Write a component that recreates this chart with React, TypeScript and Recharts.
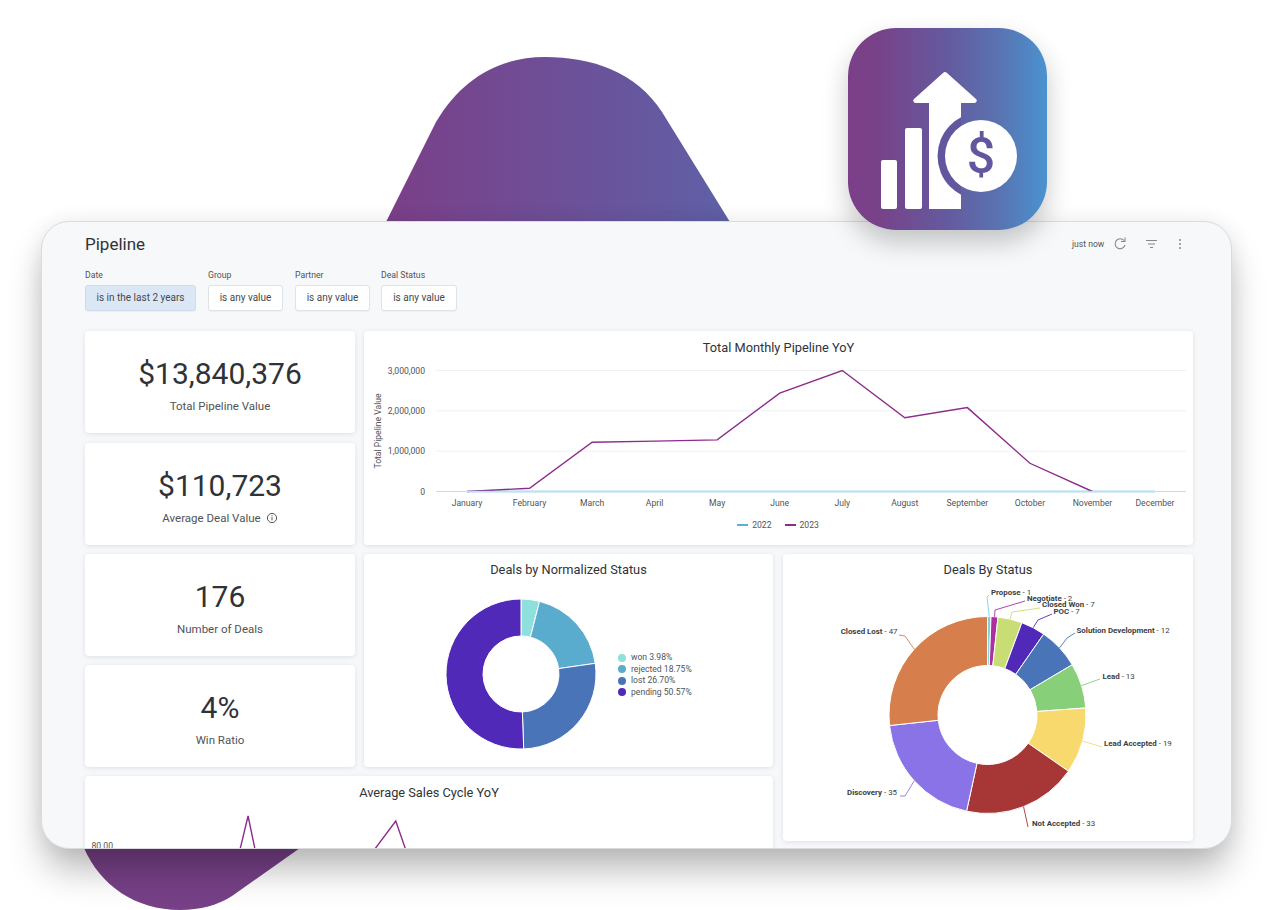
import React from 'react';
import { LineChart, Line, XAxis, YAxis, CartesianGrid, Legend, PieChart, Pie, Cell } from 'recharts';

const MONTHS = ['January','February','March','April','May','June','July','August','September','October','November','December'];
const PIPE_2022 = [0,0,0,0,0,0,0,0,0,0,0,0];
const PIPE_2023 = [0,80000,1220000,1250000,1280000,2440000,3000000,1830000,2080000,700000,0,null];
const PIPE_TICKS = [0,1000000,2000000,3000000];

const NORM_NAMES = ['won','rejected','lost','pending'];
const NORM_VALUES = [3.98,18.75,26.70,50.57];
const NORM_COLORS = ['#8de0dc','#5aaccf','#4a74b8','#5029b8'];

const STATUS_NAMES = ['Propose','Negotiate','Closed Won','POC','Solution Development','Lead','Lead Accepted','Not Accepted','Discovery','Closed Lost'];
const STATUS_VALUES = [1,2,7,7,12,13,19,33,35,47];
const STATUS_COLORS = ['#7fd0e0','#a9309e','#c9dd75','#5029b8','#4a74b8','#87cf78','#f8d96e','#a73636','#8a73e6','#d67f4d'];

const CYCLE_VALUES = [38,52,47,60,44,95,36,48,55,62,76,92.5,57,44,63,50,39,67,46,54,35,49,42,30,26,33,28];
const CYCLE_TICKS = [80];

const FONT = 'Roboto, sans-serif';
const INK = '#2f3338';
const MUTED = '#4f5459';

const pipeRows = MONTHS.map((m,i)=>({month:m,y2022:PIPE_2022[i],y2023:PIPE_2023[i]}));
const normRows = NORM_NAMES.map((n,i)=>({name:n,value:NORM_VALUES[i]}));
const statusRows = STATUS_NAMES.map((n,i)=>({name:n,value:STATUS_VALUES[i]}));
const cycleRows = CYCLE_VALUES.map((v,i)=>({idx:String(i),value:v}));

// label placement around the status donut, relative to its centre
const LABEL_PLACE = [
  {x:3.5,y:-123.5,a:'start',via:[[-0.5,-118],[1.5,-120]]},
  {x:39.5,y:-117.5,a:'start',via:[[7.5,-105],[37.5,-114]]},
  {x:54.5,y:-111,a:'start',via:[[24.5,-103],[52.5,-107]]},
  {x:66,y:-104.5,a:'start',via:[[50.5,-95],[64.5,-101]]},
  {x:89,y:-85,a:'start',via:[[79.5,-77],[87.5,-82]]},
  {x:115,y:-39.5,a:'start',via:[[112.5,-36]]},
  {x:116.5,y:28,a:'start',via:[[114.5,32]]},
  {x:44.5,y:108,a:'start',via:[[40.5,112]]},
  {x:-90.5,y:76.5,a:'end',via:[[-82.5,81],[-87.5,81]]},
  {x:-90,y:-84,a:'end',via:[[-82.5,-79],[-88.5,-80]]},
];

const polar = (cx:number,cy:number,r:number,deg:number)=>[cx+r*Math.cos(-deg*Math.PI/180),cy+r*Math.sin(-deg*Math.PI/180)];

const StatusLabel = (p:any)=>{
  const place = LABEL_PLACE[p.index];
  return (
    <text x={p.cx+place.x} y={p.cy+place.y} textAnchor={place.a} dominantBaseline="central" fontSize={7.9} fontFamily={FONT} fill="#3a3e43">
      <tspan fontWeight={700}>{STATUS_NAMES[p.index]}</tspan>
      <tspan> - {STATUS_VALUES[p.index]}</tspan>
    </text>
  );
};
const StatusLine = (p:any)=>{
  const place = LABEL_PLACE[p.index];
  const c = STATUS_COLORS[p.index];
  const cx = p.cx; const cy = p.cy;
  const mid = p.midAngle;
  const start = polar(cx,cy,p.outerRadius,mid);
  const pts = [start,...place.via.map(([x,y]:number[])=>[cx+x,cy+y])];
  return <polyline points={pts.map(q=>q.join(',')).join(' ')} fill="none" stroke={c} strokeWidth={0.9} strokeLinejoin="round"/>;
};

const Card = ({x,y,w,h,children}:any)=>(
  <div style={{position:'absolute',left:x,top:y,width:w,height:h,background:'#fff',borderRadius:4,boxShadow:'0 1px 5px rgba(60,70,80,0.13)',overflow:'hidden'}}>{children}</div>
);
const Title = ({w,y,children}:any)=>(
  <div style={{position:'absolute',left:0,width:w,top:y,textAlign:'center',fontSize:12.8,lineHeight:'16px',color:INK,whiteSpace:'nowrap'}}>{children}</div>
);
const Kpi = ({y,value,label,info}:any)=>(
  <Card x={85} y={y} w={270} h={102}>
    <div style={{position:'absolute',left:0,width:270,top:22.5,textAlign:'center',fontSize:30,lineHeight:'40px',color:INK}}>{value}</div>
    <div style={{position:'absolute',left:0,width:270,top:67,textAlign:'center',fontSize:11.5,lineHeight:'16px',color:MUTED}}>
      {label}
      {info && <svg width="12" height="12" viewBox="0 0 12 12" style={{marginLeft:5,verticalAlign:-2}}><circle cx="6" cy="6" r="4.6" fill="none" stroke={MUTED} strokeWidth="1"/><rect x="5.5" y="5.2" width="1" height="3.2" fill={MUTED}/><rect x="5.5" y="3.4" width="1" height="1" fill={MUTED}/></svg>}
    </div>
  </Card>
);
const Filter = ({x,w,label,value,active}:any)=>(
  <>
    <div style={{position:'absolute',left:x,top:269,fontSize:8.7,lineHeight:'12px',color:MUTED}}>{label}</div>
    <div style={{position:'absolute',left:x,top:285,width:w,height:26,boxSizing:'border-box',borderRadius:3,background:active?'#dce7f5':'#fff',border:active?'1px solid #d0dcec':'1px solid #dfe2e6',textAlign:'center',fontSize:10,lineHeight:'24px',color:'#44494e',boxShadow:'0 1px 1px rgba(0,0,0,0.04)'}}>{value}</div>
  </>
);

const PipeLegend = (p:any)=>(
  <div style={{display:'flex',justifyContent:'center',gap:13,fontSize:8.6,lineHeight:'12px',color:MUTED,paddingLeft:6,paddingTop:6}}>
    {(p.payload||[]).map((e:any)=>(
      <span key={e.value} style={{display:'inline-flex',alignItems:'center',gap:4}}>
        <span style={{display:'inline-block',width:11,height:1.5,background:e.color}}/>{e.value}
      </span>
    ))}
  </div>
);
const NormLegend = ()=>(
  <div style={{fontSize:8.6,lineHeight:'11.5px',color:MUTED}}>
    {normRows.map((r,i)=>(
      <div key={r.name} style={{display:'flex',alignItems:'center',gap:5,whiteSpace:'nowrap'}}>
        <span style={{display:'inline-block',width:8,height:8,borderRadius:4,background:NORM_COLORS[i]}}/>
        {r.name} {r.value.toFixed(2)}%
      </div>
    ))}
  </div>
);

export default function App(){
  return (
    <div style={{position:'absolute',left:0,top:0,width:1273,height:910,overflow:'hidden',background:'#fff',fontFamily:FONT}}>
      <svg width={1273} height={910} style={{position:'absolute',left:0,top:0}}>
        <defs>
          <linearGradient id="blobTop" x1="0" x2="1" y1="0" y2="0"><stop offset="0" stopColor="#7b3f88"/><stop offset="1" stopColor="#5f60a7"/></linearGradient>
        </defs>
        <path d="M386 222 L436 122 C462 78 500 57 545 57 C592 57 636 72 662 112 L730 222 Z" fill="url(#blobTop)"/>
        <path d="M84 848 C100 885 135 910 180 910 C200 910 218 905 232 896 L300 848 Z" fill="#774087"/>
      </svg>

      <div style={{position:'absolute',left:41,top:221,width:1191,height:628,boxSizing:'border-box',borderRadius:28,background:'#f6f8fa',border:'1px solid #d9dbde',boxShadow:'0 24px 36px -4px rgba(0,0,0,0.28), 0 0 22px rgba(0,0,0,0.07)',overflow:'hidden'}}>
        <div style={{position:'absolute',left:-42,top:-222,width:1273,height:910}}>
          <div style={{position:'absolute',left:85,top:233,fontSize:17,lineHeight:'22px',color:INK}}>Pipeline</div>
          <div style={{position:'absolute',left:1072,top:238,fontSize:8.6,lineHeight:'12px',color:MUTED}}>just now</div>
          <svg width={130} height={24} style={{position:'absolute',left:1070,top:232}}>
            <path d="M54 8.5 A5 5 0 1 0 55 13" fill="none" stroke="#85898e" strokeWidth="1.1"/>
            <path d="M55 5.5 V9.5 H51" fill="none" stroke="#85898e" strokeWidth="1.1"/>
            <path d="M76 8.5 H87 M78 12 H85 M80 15.5 H83" stroke="#85898e" strokeWidth="1.1"/>
            <circle cx="110" cy="8" r="1" fill="#85898e"/><circle cx="110" cy="12" r="1" fill="#85898e"/><circle cx="110" cy="16" r="1" fill="#85898e"/>
          </svg>
          <Filter x={85} w={111} label="Date" value="is in the last 2 years" active/>
          <Filter x={208} w={75} label="Group" value="is any value"/>
          <Filter x={295} w={75} label="Partner" value="is any value"/>
          <Filter x={381} w={76} label="Deal Status" value="is any value"/>

          <Kpi y={331} value="$13,840,376" label="Total Pipeline Value"/>
          <Kpi y={443} value="$110,723" label="Average Deal Value" info/>
          <Kpi y={554} value="176" label="Number of Deals"/>
          <Kpi y={665} value="4%" label="Win Ratio"/>

          <Card x={364} y={331} w={829} h={214}>
            <Title w={829} y={9}>Total Monthly Pipeline YoY</Title>
            <LineChart width={829} height={214} data={pipeRows} margin={{top:39.5,right:7,bottom:8,left:0}}>
              <CartesianGrid vertical={false} stroke="#eef0f2"/>
              <XAxis dataKey="month" interval={0} padding={{left:31,right:31}} height={21.5} tickLine={false} axisLine={{stroke:'#d5d8dc'}} tickSize={0} tickMargin={8} tick={{fontSize:8.6,fill:MUTED,fontFamily:FONT}}/>
              <YAxis width={72} domain={[0,3000000]} ticks={PIPE_TICKS} tickLine={false} axisLine={false} tickSize={0} tickMargin={11}
                tickFormatter={(v:number)=>v.toLocaleString('en-US')} tick={{fontSize:8.6,fill:MUTED,fontFamily:FONT}}
                label={{value:'Total Pipeline Value',angle:-90,position:'insideLeft',offset:14,style:{fontSize:8.6,fill:MUTED,fontFamily:FONT,textAnchor:'middle'}}}/>
              <Legend verticalAlign="bottom" height={24} content={PipeLegend}/>
              <Line name="2023" dataKey="y2023" stroke="#8e2c8c" strokeWidth={1.4} dot={false} isAnimationActive={false}/>
              <Line name="2022" dataKey="y2022" stroke="#5ab0d8" strokeWidth={1.4} dot={false} isAnimationActive={false}/>
            </LineChart>
          </Card>

          <Card x={364} y={554} w={409} h={213}>
            <Title w={409} y={8}>Deals by Normalized Status</Title>
            <PieChart width={409} height={213} margin={{top:0,right:0,bottom:0,left:0}}>
              <Pie data={normRows} dataKey="value" nameKey="name" cx={157} cy={120} outerRadius={75} innerRadius={38} startAngle={90} endAngle={-270} stroke="#fff" strokeWidth={1} isAnimationActive={false}>
                {normRows.map((r,i)=><Cell key={r.name} fill={NORM_COLORS[i]}/>)}
              </Pie>
            </PieChart>
            <div style={{position:'absolute',left:254,top:98}}><NormLegend/></div>
          </Card>

          <Card x={783} y={554} w={410} h={287}>
            <Title w={410} y={8}>Deals By Status</Title>
            <PieChart width={410} height={287} margin={{top:0,right:0,bottom:0,left:0}}>
              <Pie data={statusRows} dataKey="value" nameKey="name" cx={204.5} cy={161} outerRadius={98.5} innerRadius={49.5} startAngle={90} endAngle={-270} stroke="#fff" strokeWidth={1} isAnimationActive={false} label={StatusLabel} labelLine={StatusLine}>
                {statusRows.map((r,i)=><Cell key={r.name} fill={STATUS_COLORS[i]}/>)}
              </Pie>
            </PieChart>
          </Card>

          <Card x={85} y={776} w={688} h={230}>
            <Title w={688} y={9}>Average Sales Cycle YoY</Title>
            <LineChart width={688} height={230} data={cycleRows} margin={{top:30,right:8,bottom:0,left:0}}>
              <XAxis dataKey="idx" hide padding={{left:0,right:0}}/>
              <YAxis width={40} domain={[0,100]} ticks={CYCLE_TICKS} tickLine={false} axisLine={false} tickFormatter={(v:number)=>v.toFixed(2)} tickSize={0} tickMargin={12} tick={{fontSize:8.6,fill:MUTED,fontFamily:FONT}}/>
              <Line dataKey="value" stroke="#8e2c8c" strokeWidth={1.4} dot={false} isAnimationActive={false}/>
            </LineChart>
          </Card>
        </div>
      </div>

      <div style={{position:'absolute',left:848,top:28,width:199,height:202,borderRadius:48,background:'linear-gradient(90deg,#7b3f88 0%,#784289 15%,#645a9f 50%,#5a72b0 75%,#4a92d0 100%)',boxShadow:'0 12px 26px rgba(0,0,0,0.22)'}}>
        <svg width={199} height={202} style={{position:'absolute',left:0,top:0}}>
          <defs><clipPath id="arrowClip"><rect x="900" y="60" width="61" height="150"/></clipPath></defs>
          <g transform="translate(-848,-28)">
            <rect x="881" y="160" width="16" height="49" rx="2" fill="#fff"/>
            <rect x="905" y="128" width="17" height="81" rx="2" fill="#fff"/>
            <path d="M929 209 V103 H915 Q912 101 914 99 L943 73 Q945 71 947 73 L976 99 Q978 101 975 103 H961 V209 Z" fill="#fff"/>
            <circle cx="981" cy="156" r="43.5" fill="#62579f" clipPath="url(#arrowClip)"/>
            <circle cx="981" cy="156" r="36" fill="#fff"/>
            <text x="981" y="156" textAnchor="middle" dominantBaseline="central" fontSize={50} fontWeight={500} fontFamily={FONT} fill="#62579f">$</text>
          </g>
        </svg>
      </div>
    </div>
  );
}
